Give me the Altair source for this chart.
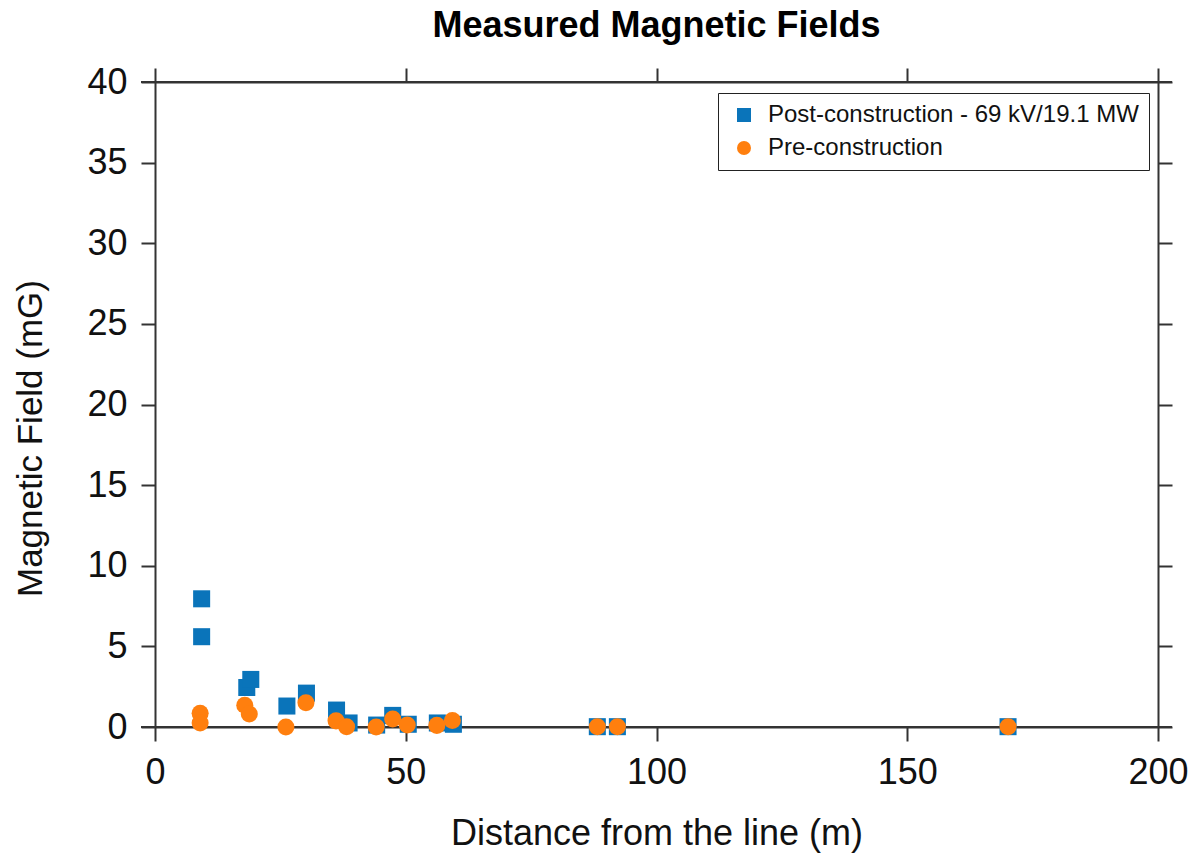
import altair as alt
import pandas as pd

post_x = [9.3, 9.3, 18.3, 19.1, 26.3, 30.2, 36.2, 38.7, 44.2, 47.4, 50.5, 56.3, 59.5, 88.2, 92.2, 170.1]
post_y = [7.95, 5.6, 2.45, 2.95, 1.3, 2.1, 1.05, 0.25, 0.12, 0.72, 0.17, 0.25, 0.17, 0.02, 0.02, 0.02]
pre_x = [9.0, 9.0, 17.9, 18.8, 26.1, 30.1, 36.1, 38.2, 44.1, 47.4, 50.3, 56.2, 59.3, 88.2, 92.2, 170.1]
pre_y = [0.85, 0.25, 1.35, 0.8, 0.0, 1.5, 0.38, 0.02, 0.0, 0.5, 0.12, 0.1, 0.4, 0.02, 0.02, 0.02]

series = ["Post-construction - 69 kV/19.1 MW", "Pre-construction"]
colors = ["#0A74BA", "#FF7F0E"]
shapes = ["square", "circle"]
x_ticks = [0, 50, 100, 150, 200]
y_ticks = [0, 5, 10, 15, 20, 25, 30, 35, 40]

df = pd.DataFrame(
    {"x": post_x + pre_x,
     "y": post_y + pre_y,
     "series": [series[0]] * len(post_x) + [series[1]] * len(pre_x)}
)
df["order"] = range(len(df))

FONT = "Liberation Sans"
W, H = 1003, 645
TICK = 14
LINE = "#333333"

xs = alt.Scale(domain=[0, 200], nice=False, zero=False)
ys = alt.Scale(domain=[0, 40], nice=False, zero=False)

points = alt.Chart(df).mark_point(filled=True, size=290, opacity=1).encode(
    x=alt.X("x:Q", scale=xs,
            axis=alt.Axis(title="Distance from the line (m)", values=x_ticks,
                          grid=False, tickSize=TICK, labelFontSize=36, titleFontSize=36,
                          labelPadding=14, titlePadding=26, labelFont=FONT, titleFont=FONT,
                          titleFontWeight="normal", domainColor=LINE, tickColor=LINE,
                          labelColor="#111", titleColor="#111", domainWidth=2, tickWidth=2,
                          labelFlush=False)),
    y=alt.Y("y:Q", scale=ys,
            axis=alt.Axis(title="Magnetic Field (mG)", values=y_ticks,
                          grid=False, tickSize=TICK, labelFontSize=36, titleFontSize=35,
                          labelPadding=14, titlePadding=38, titleY=356, labelFont=FONT,
                          titleFont=FONT,
                          titleFontWeight="normal", domainColor=LINE, tickColor=LINE,
                          labelColor="#111", titleColor="#111", domainWidth=2, tickWidth=2,
                          labelFlush=False)),
    color=alt.Color("series:N", scale=alt.Scale(domain=series, range=colors),
                    legend=alt.Legend(title=None, orient="none", legendX=563, legendY=11,
                                      labelFontSize=24, labelFont=FONT, labelColor="#111",
                                      symbolSize=196, strokeColor="#222", fillColor="white",
                                      padding=10, rowPadding=9, labelLimit=800,
                                      symbolOffset=4, labelOffset=12,
                                      cornerRadius=0, symbolOpacity=1)),
    shape=alt.Shape("series:N", scale=alt.Scale(domain=series, range=shapes), legend=None),
    order=alt.Order("order:Q"),
)

frame_axes = alt.Chart(df).mark_point(opacity=0).encode(
    x=alt.X("x:Q", scale=xs,
            axis=alt.Axis(orient="top", title=None, labels=False, values=x_ticks,
                          grid=False, tickSize=TICK, domainColor=LINE, tickColor=LINE,
                          domainWidth=2, tickWidth=2)),
    y=alt.Y("y:Q", scale=ys,
            axis=alt.Axis(orient="right", title=None, labels=False, values=y_ticks,
                          grid=False, tickSize=TICK, domainColor=LINE, tickColor=LINE,
                          domainWidth=2, tickWidth=2)),
)

# frame lines that run past the corners, as in the reference
hlines = alt.Chart(pd.DataFrame({"k": [0, 1]})).mark_rule(color=LINE, strokeWidth=2, clip=False).encode(
    x=alt.value(-TICK), x2=alt.value(W + TICK),
    y=alt.Y("k:Q", scale=alt.Scale(domain=[0, 1]), axis=None),
)

chart = alt.layer(frame_axes, hlines, points).resolve_scale(
    x="independent", y="independent"
).resolve_axis(x="independent", y="independent").properties(
    width=W, height=H,
    title=alt.TitleParams("Measured Magnetic Fields", fontSize=36, font=FONT,
                          fontWeight="bold", color="#000", anchor="middle", offset=19),
    autosize=alt.AutoSizeParams(type="none"),
    padding={"left": 155, "top": 82, "right": 45, "bottom": 133},
).configure_view(stroke=None).configure(background="white")

chart.save("out.html", embed_options={"renderer": "svg", "actions": False})
